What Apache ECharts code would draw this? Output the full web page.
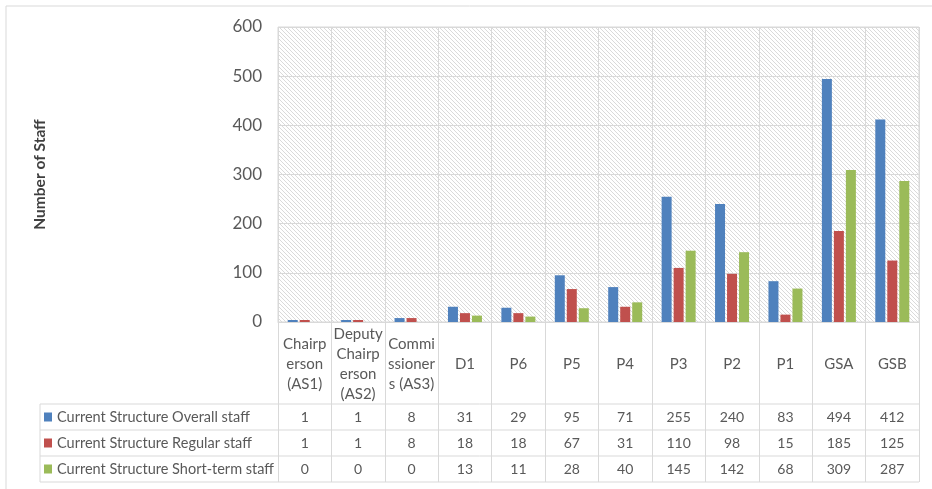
<!DOCTYPE html>
<html>
<head>
<meta charset="utf-8">
<script src="https://cdn.jsdelivr.net/npm/echarts@6/dist/echarts.min.js"></script>
<style>
  html, body { margin: 0; padding: 0; background: #fff; }
  #chart { width: 932px; height: 489px; }
</style>
</head>
<body>
<div id="chart"></div>
<script>
// Staff grades (label text wrapped as it is set in the table header)
const categories = ['Chairp\nerson\n(AS1)', 'Deputy\nChairp\nerson\n(AS2)', 'Commi\nssioner\ns (AS3)',
  'D1', 'P6', 'P5', 'P4', 'P3', 'P2', 'P1', 'GSA', 'GSB'];
const seriesNames = ['Current Structure Overall staff', 'Current Structure Regular staff', 'Current Structure Short-term staff'];
const overallStaff   = [1, 1, 8, 31, 29, 95, 71, 255, 240, 83, 494, 412];
const regularStaff   = [1, 1, 8, 18, 18, 67, 31, 110, 98, 15, 185, 125];
const shortTermStaff = [0, 0, 0, 13, 11, 28, 40, 145, 142, 68, 309, 287];
const yAxisMin = 0, yAxisMax = 600, yAxisStep = 100;
const yAxisTitle = 'Number of Staff';

const seriesValues = [overallStaff, regularStaff, shortTermStaff];
const seriesColors = ['#4F81BD', '#C0504D', '#9BBB59'];
const textColor = '#595959';
const lineColor = '#d9d9d9';
const fontFamily = 'Lato, "Open Sans", sans-serif';

// diagonal hatch tile for the plot background
function makeHatch() {
  const c = document.createElement('canvas');
  c.width = 8; c.height = 8;
  const ctx = c.getContext('2d');
  ctx.fillStyle = '#ffffff';
  ctx.fillRect(0, 0, 8, 8);
  ctx.fillStyle = '#dadada';
  for (let y = 0; y < 8; y++) {
    for (let x = 0; x < 8; x++) {
      if ((((x - y) % 4) + 4) % 4 === 0) ctx.fillRect(x, y, 1, 1);
    }
  }
  return c;
}

const gridTop = 27, gridLeft = 278, gridWidth = 641, gridHeight = 295;
const axisY = gridTop + gridHeight;
const rowLines = [404, 430, 456, 482];

// one label-only axis per data row of the table
const rowAxes = seriesValues.map((vals, r) => ({
  type: 'category',
  gridIndex: 0,
  position: 'bottom',
  data: categories,
  axisLine: { show: false },
  axisTick: { show: false },
  splitLine: { show: false },
  axisLabel: {
    interval: 0,
    margin: (rowLines[r] + rowLines[r + 1]) / 2 - axisY,
    verticalAlign: 'middle',
    color: textColor,
    fontSize: 14,
    fontFamily: fontFamily,
    formatter: (v, i) => String(vals[i])
  }
}));

const chart = echarts.init(document.getElementById('chart'), null, { renderer: 'canvas' });

const tableLines = rowLines.map(y => ({
  type: 'line',
  shape: { x1: 40, y1: y, x2: gridLeft + gridWidth, y2: y },
  style: { stroke: lineColor, lineWidth: 1 },
  silent: true
}));
tableLines.push({
  type: 'line',
  shape: { x1: 40, y1: rowLines[0], x2: 40, y2: rowLines[rowLines.length - 1] },
  style: { stroke: lineColor, lineWidth: 1 },
  silent: true
});

chart.setOption({
  animation: false,
  backgroundColor: '#ffffff',
  textStyle: { fontFamily: fontFamily },
  grid: {
    left: gridLeft, top: gridTop, width: gridWidth, height: gridHeight,
    show: true,
    borderColor: lineColor,
    borderWidth: 1,
    backgroundColor: { image: makeHatch(), repeat: 'repeat' },
    containLabel: false,
    outerBoundsMode: 'none'
  },
  legend: {
    orient: 'vertical',
    left: 44,
    top: 409,
    padding: 0,
    itemWidth: 8,
    itemHeight: 9,
    itemGap: 10,
    icon: 'rect',
    selectedMode: false,
    data: seriesNames,
    textStyle: { color: textColor, fontSize: 14.5, lineHeight: 16, fontFamily: fontFamily }
  },
  xAxis: [{
    type: 'category',
    gridIndex: 0,
    position: 'bottom',
    data: categories,
    axisLine: { show: true, lineStyle: { color: lineColor, width: 1 } },
    axisTick: { show: true, interval: 0, length: rowLines[rowLines.length - 1] - axisY, lineStyle: { color: lineColor, width: 1 } },
    splitLine: { show: true, interval: 0, lineStyle: { color: lineColor, width: 1 } },
    axisLabel: {
      interval: 0,
      margin: (axisY + rowLines[0]) / 2 - axisY + 1,
      verticalAlign: 'middle',
      align: 'center',
      color: textColor,
      fontSize: 15,
      lineHeight: 20,
      fontFamily: fontFamily
    }
  }].concat(rowAxes),
  yAxis: {
    type: 'value',
    min: yAxisMin,
    max: yAxisMax,
    interval: yAxisStep,
    name: yAxisTitle,
    nameLocation: 'middle',
    nameGap: 230,
    nameRotate: 90,
    nameTextStyle: { color: '#404040', fontSize: 15.5, fontWeight: 'bold', fontFamily: fontFamily },
    axisLine: { show: false },
    axisTick: { show: false },
    axisLabel: { color: textColor, fontSize: 17, margin: 16, fontFamily: fontFamily },
    splitLine: { lineStyle: { color: lineColor, width: 1 } }
  },
  series: seriesNames.map((name, i) => ({
    name: name,
    type: 'bar',
    xAxisIndex: 0,
    yAxisIndex: 0,
    data: seriesValues[i],
    barWidth: 10,
    barGap: '20%',
    // keep single-person bars visible; the short-term series contains zeros
    barMinHeight: seriesValues[i].every(v => v > 0) ? 2 : 0,
    itemStyle: { color: seriesColors[i] }
  })),
  graphic: [{
    type: 'rect',
    shape: { x: 6, y: 6, width: 1000, height: 1000 },
    style: { fill: 'none', stroke: lineColor, lineWidth: 1 },
    silent: true,
    z: -10
  }].concat(tableLines)
});
</script>
</body>
</html>
